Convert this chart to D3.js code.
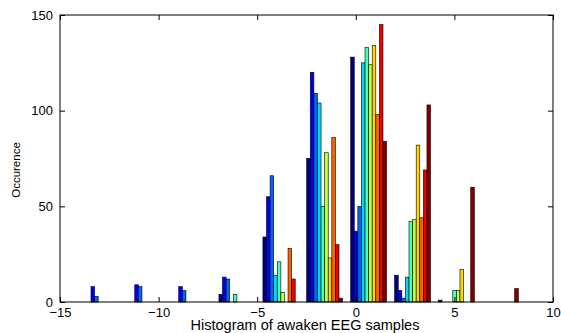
<!DOCTYPE html>
<html>
<head>
<meta charset="utf-8">
<script src="https://cdn.jsdelivr.net/npm/d3@7"></script>
<style>
  body { margin: 0; background: #fff; }
  svg { display: block; font-family: 'Liberation Sans', Arial, sans-serif; }
</style>
</head>
<body>
<svg width="561" height="333"></svg>
<script>
// bin centres of the histogram (10 bins)
const binCenters = [-12.70, -10.48, -8.25, -6.03, -3.80, -1.58, 0.65, 2.88, 5.10, 7.33];

// counts per sample column, one array per colour
const s1 = [0, 0, 0, 4, 34, 75, 128, 14, 1, 0];
const s2 = [8, 9, 8, 13, 55, 120, 37, 6, 0, 0];
const s3 = [3, 8, 6, 12, 66, 109, 50, 2, 0, 0];
const s4 = [0, 0, 0, 0, 14, 104, 125, 13, 0, 0];
const s5 = [0, 0, 0, 4, 21, 50, 133, 42, 6, 0];
const s6 = [0, 0, 0, 0, 5, 78, 124, 43, 6, 0];
const s7 = [0, 0, 0, 0, 0, 23, 134, 82, 17, 0];
const s8 = [0, 0, 0, 0, 28, 86, 98, 44, 0, 0];
const s9 = [0, 0, 0, 0, 12, 30, 145, 69, 0, 0];
const s10 = [0, 0, 0, 0, 0, 2, 84, 103, 60, 7];
const series = [s1, s2, s3, s4, s5, s6, s7, s8, s9, s10];

// jet colormap, 10 steps
const colors = ['#000080', '#0000f1', '#0063ff', '#00d4ff', '#47ffb8',
                '#b8ff47', '#ffd400', '#ff6300', '#f10000', '#800000'];

const xTicks = [-15, -10, -5, 0, 5, 10];
const yTicks = [0, 50, 100, 150];

const margin = { top: 15, right: 8, bottom: 31, left: 60 };
const width = 561, height = 333;

const x = d3.scaleLinear().domain([-15, 10]).range([margin.left, width - margin.right]);
const y = d3.scaleLinear().domain([0, 150]).range([height - margin.bottom, margin.top]);

const svg = d3.select('svg');

// bar geometry: group takes 0.82 of bin spacing, bars touch inside the group
const spacing = binCenters[1] - binCenters[0];
const groupW = spacing * 0.82;
const barW = groupW / series.length;

const rows = [];
series.forEach((vals, si) => {
  vals.forEach((v, bi) => {
    rows.push({ si: si, x0: binCenters[bi] - groupW / 2 + si * barW, v: v });
  });
});

svg.append('g')
  .selectAll('rect')
  .data(rows)
  .enter()
  .append('rect')
  .attr('x', d => x(d.x0))
  .attr('width', d => x(d.x0 + barW) - x(d.x0))
  .attr('y', d => y(d.v))
  .attr('height', d => y(0) - y(d.v))
  .attr('fill', d => colors[d.si])
  .attr('stroke', '#000')
  .attr('stroke-width', 0.6);

// axes, ticks pointing inward like matlab
const styleAxis = g => {
  g.select('.domain').remove();
  g.selectAll('line').attr('stroke', '#000');
  g.selectAll('text').attr('fill', '#000').style('font-size', '13px');
};

svg.append('g')
  .attr('transform', `translate(0,${y(0)})`)
  .call(d3.axisBottom(x).tickValues(xTicks).tickSize(-5).tickPadding(6))
  .call(styleAxis);

svg.append('g')
  .attr('transform', `translate(0,${y(150)})`)
  .call(d3.axisTop(x).tickValues(xTicks).tickSize(-5).tickFormat(''))
  .call(styleAxis);

svg.append('g')
  .attr('transform', `translate(${x(-15)},0)`)
  .call(d3.axisLeft(y).tickValues(yTicks).tickSize(-5).tickPadding(7))
  .call(styleAxis);

svg.append('g')
  .attr('transform', `translate(${x(10)},0)`)
  .call(d3.axisRight(y).tickValues(yTicks).tickSize(-5).tickFormat(''))
  .call(styleAxis);

// box
svg.append('rect')
  .attr('x', x(-15))
  .attr('y', y(150))
  .attr('width', x(10) - x(-15))
  .attr('height', y(0) - y(150))
  .attr('fill', 'none')
  .attr('stroke', '#000')
  .attr('stroke-width', 1);

svg.append('text')
  .attr('x', 305)
  .attr('y', 329.5)
  .attr('text-anchor', 'middle')
  .style('font-size', '14.5px')
  .text('Histogram of awaken EEG samples');

svg.append('text')
  .attr('transform', 'translate(19.5,170) rotate(-90)')
  .attr('text-anchor', 'middle')
  .style('font-size', '11.5px')
  .text('Occurence');
</script>
</body>
</html>
